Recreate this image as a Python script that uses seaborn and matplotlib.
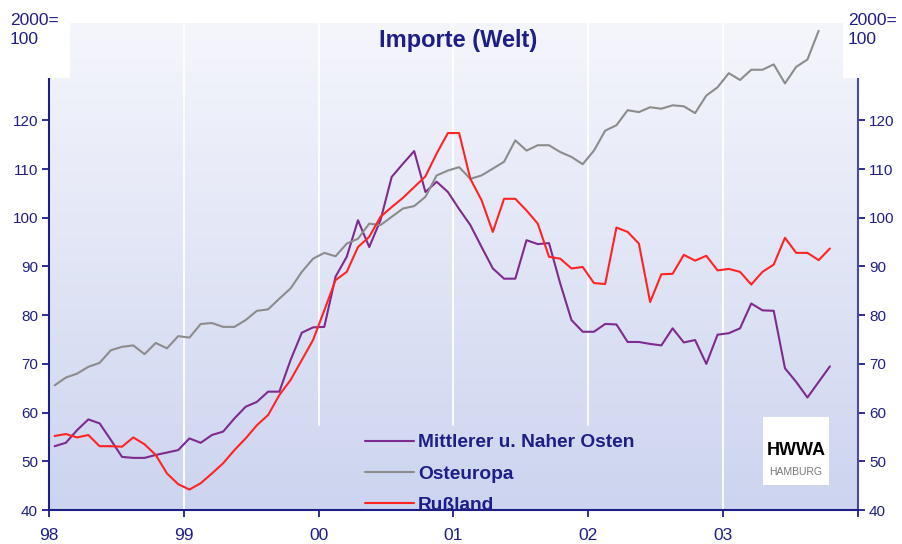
import numpy as np
import pandas as pd
import matplotlib
matplotlib.use("Agg")
import matplotlib.pyplot as plt
import seaborn as sns
from matplotlib.colors import LinearSegmentedColormap
from matplotlib.patches import Rectangle

# Monthly import index (2000 = 100), starting Jan 1998
mittlerer_osten = [53.1, 53.8, 56.4, 58.6, 57.8, 54.4, 50.9, 50.7, 50.7, 51.3, 51.8, 52.3,
                   54.7, 53.8, 55.4, 56.1, 58.8, 61.2, 62.2, 64.3, 64.3, 70.8, 76.4, 77.5,
                   77.6, 87.9, 92.0, 99.5, 94.0, 99.5, 108.4, 111.1, 113.7, 105.3, 107.4, 105.3,
                   101.8, 98.5, 94.0, 89.6, 87.5, 87.5, 95.4, 94.6, 94.8, 86.5, 79.0, 76.6,
                   76.6, 78.2, 78.1, 74.5, 74.5, 74.1, 73.8, 77.3, 74.4, 74.9, 70.0, 76.0,
                   76.3, 77.3, 82.4, 81.0, 80.9, 69.1, 66.3, 63.1, 66.3, 69.5]
osteuropa = [65.6, 67.2, 68.0, 69.4, 70.2, 72.8, 73.5, 73.8, 72.0, 74.3, 73.2, 75.7,
             75.4, 78.2, 78.4, 77.6, 77.6, 79.0, 80.9, 81.2, 83.4, 85.5, 88.9, 91.6,
             92.8, 92.1, 94.7, 95.7, 98.8, 98.5, 100.2, 101.9, 102.4, 104.3, 108.7, 109.7,
             110.4, 108.0, 108.7, 110.1, 111.5, 115.9, 113.8, 114.9, 114.9, 113.5, 112.5, 111.0,
             113.8, 117.9, 119.0, 122.1, 121.7, 122.7, 122.4, 123.1, 122.9, 121.5, 125.1, 126.8,
             129.7, 128.3, 130.4, 130.4, 131.5, 127.6, 131.0, 132.5, 138.4]
russland = [55.2, 55.6, 54.9, 55.4, 53.1, 53.1, 53.0, 54.9, 53.5, 51.3, 47.5, 45.3,
            44.2, 45.5, 47.5, 49.6, 52.3, 54.7, 57.4, 59.5, 63.6, 66.7, 70.8, 74.9,
            81.0, 87.2, 88.9, 94.0, 96.1, 100.2, 102.2, 104.1, 106.3, 108.5, 113.2, 117.4,
            117.4, 108.0, 103.6, 97.1, 103.9, 103.9, 101.5, 98.8, 92.0, 91.6, 89.6, 89.9,
            86.6, 86.4, 98.0, 97.1, 94.7, 82.7, 88.4, 88.5, 92.4, 91.2, 92.2, 89.2,
            89.5, 88.9, 86.3, 88.9, 90.4, 95.9, 92.8, 92.8, 91.3, 93.7]

series_names = ["Mittlerer u. Naher Osten", "Osteuropa", "Rußland"]
series_colors = ["#7e2a8e", "#8c8c8c", "#ff2424"]
year_ticks = [1998, 1999, 2000, 2001, 2002, 2003, 2004]
year_labels = ["98", "99", "00", "01", "02", "03", ""]
y_ticks = [40, 50, 60, 70, 80, 90, 100, 110, 120]

frames = []
for name, vals in zip(series_names, [mittlerer_osten, osteuropa, russland]):
    t = 1998 + (np.arange(len(vals)) + 0.5) / 12
    frames.append(pd.DataFrame({"t": t, "wert": vals, "region": name}))
df = pd.concat(frames, ignore_index=True)

sns.set_style("white")
plt.rcParams["font.family"] = ["Liberation Sans", "DejaVu Sans"]

navy = "#1e1e88"
fig = plt.figure(figsize=(9.02, 5.44), dpi=100)
ax = fig.add_axes([49 / 902, 34 / 544, 809 / 902, 487 / 544])
ax.set_facecolor("none")

# gradient background
grad = LinearSegmentedColormap.from_list("bg", ["#f5f6fc", "#ccd4ef"])
ax.imshow(np.linspace(0, 1, 256).reshape(-1, 1), cmap=grad, aspect="auto",
          extent=[1998, 2004, 40, 140], origin="upper", zorder=0)

# white year separators (the middle ones stop above the legend)
for yr in year_ticks[1:-1]:
    ymin = 0.174 if yr in (2000, 2001, 2002) else 0
    ax.axvline(yr, ymin=ymin, color="white", lw=1.3, zorder=1)

sns.lineplot(data=df, x="t", y="wert", hue="region", hue_order=series_names,
             palette=dict(zip(series_names, series_colors)), linewidth=1.5,
             ax=ax, zorder=3)

ax.set_xlim(1998, 2004)
ax.set_ylim(40, 140)
ax.set_xticks(year_ticks)
ax.set_xticklabels(year_labels)
ax.set_yticks(y_ticks)
ax.set_xlabel("")
ax.set_ylabel("")

ax.spines["top"].set_visible(False)
for side in ["left", "right"]:
    ax.spines[side].set_visible(True)
    ax.spines[side].set_bounds(40, 128.6)
    ax.spines[side].set_linewidth(1.5)
ax.spines["left"].set_color(navy)
ax.spines["right"].set_color("#4a4aa6")
ax.spines["bottom"].set_color(navy)
ax.spines["bottom"].set_linewidth(1.5)

ax.tick_params(axis="y", left=True, right=True, labelleft=True, labelright=True,
               direction="out", length=5, width=1.3, color=navy, labelcolor=navy,
               labelsize=11, pad=3)
ax.tick_params(axis="x", bottom=True, direction="out", length=5, width=1.3,
               color=navy, labelcolor=navy, labelsize=12.5, pad=8)

ax.text(0.506, 0.965, "Importe (Welt)", transform=ax.transAxes, ha="center",
        va="center", fontsize=17, fontweight="bold", color=navy)

handles, labels = ax.get_legend_handles_labels()
ax.legend(handles, labels, loc="lower left", bbox_to_anchor=(0.39, -0.008),
          frameon=False, prop={"weight": "bold", "size": 13.8}, labelcolor=navy,
          handlelength=2.6, handletextpad=0.2, labelspacing=0.72,
          borderpad=0, borderaxespad=0)

# white corner boxes with the base note
fig.add_artist(Rectangle((0, 1 - 78 / 544), 70 / 902, 78 / 544, transform=fig.transFigure,
                         facecolor="white", edgecolor="none", zorder=5))
fig.add_artist(Rectangle((843 / 902, 1 - 78 / 544), 59 / 902, 78 / 544,
                         transform=fig.transFigure, facecolor="white",
                         edgecolor="none", zorder=5))
fig.text(10 / 902, 1 - 13 / 544, "2000=\n100", ha="left", va="top", fontsize=12.5,
         color=navy, linespacing=1.3, zorder=6)
fig.text(848 / 902, 1 - 13 / 544, "2000=\n100", ha="left", va="top", fontsize=12.5,
         color=navy, linespacing=1.3, zorder=6)

# HWWA logo box
ax.add_patch(Rectangle((0.8826, 0.0513), 0.0816, 0.1396, transform=ax.transAxes,
                       facecolor="white", edgecolor="none", zorder=4))
ax.text(0.9234, 0.122, "HWWA", transform=ax.transAxes, ha="center", va="center",
        fontsize=13, fontweight="bold", color="black", zorder=5)
ax.text(0.9234, 0.078, "HAMBURG", transform=ax.transAxes, ha="center", va="center",
        fontsize=7.5, color="#777777", zorder=5)

fig.savefig("out.png", dpi=100)
